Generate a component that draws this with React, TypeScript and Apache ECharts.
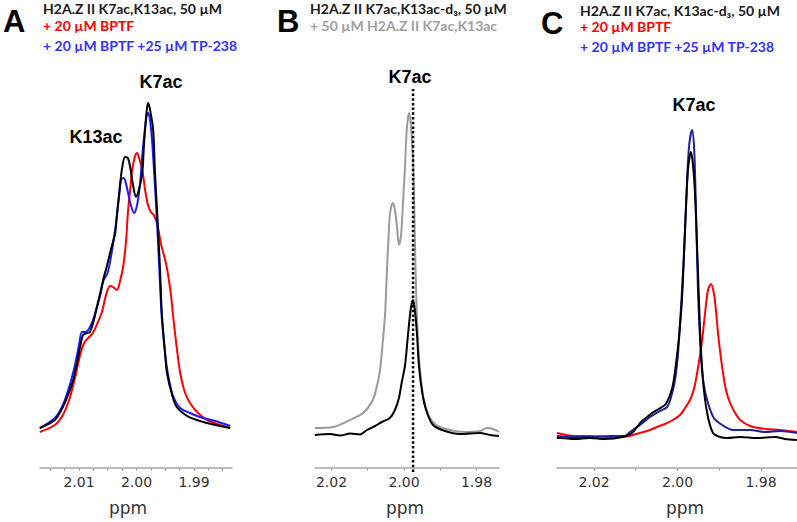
import React, { useEffect, useRef } from 'react';
import * as echarts from 'echarts';

// ---------- Panel A (ppm, intensity) ----------
const aRed = [
  [2.0168, -1], [2.0142, 0.75], [2.0128, 3.25], [2.0116, 7.5], [2.0107, 12.5], [2.0098, 18.25], [2.0091, 21.25],
  [2.0084, 22.5], [2.0076, 23.75], [2.0067, 26.5], [2.006, 29], [2.0053, 33.25], [2.0046, 35.5], [2.0041, 35.25],
  [2.0034, 34.5], [2.0029, 36.5], [2.0023, 40.5], [2.0018, 47], [2.0015, 53.75], [2.0011, 59.5], [2.0008, 64],
  [2.0003, 67.75], [1.9999, 68.75], [1.9996, 67.75], [1.999, 64.5], [1.9985, 59.5], [1.998, 55.75], [1.9975, 54],
  [1.997, 53.25], [1.9964, 51], [1.9957, 45.75], [1.995, 42], [1.9945, 38.25], [1.994, 33.25], [1.9937, 29],
  [1.9933, 23.75], [1.9928, 17.75], [1.9924, 13.75], [1.9916, 9], [1.9907, 6.25], [1.9893, 3.75], [1.9877, 2],
  [1.9855, 0.75], [1.9837, 0],
];
const aBlue = [
  [2.0168, 0], [2.0142, 2.5], [2.0128, 5.75], [2.0116, 10.75], [2.0107, 15.75], [2.01, 20.75], [2.0095, 24],
  [2.009, 24], [2.0084, 24.5], [2.0077, 26.5], [2.007, 29.5], [2.0063, 33.25], [2.0057, 37], [2.0051, 38.5],
  [2.0046, 41.5], [2.0041, 45.75], [2.0036, 50.75], [2.003, 58.25], [2.0027, 62], [2.0023, 62.5], [2.002, 62],
  [2.0015, 59], [2.001, 55.75], [2.0004, 53.75], [1.9999, 55.75], [1.9994, 60.75], [1.9989, 69.5], [1.9983, 77.5],
  [1.998, 78.75], [1.9977, 77.5], [1.9973, 72], [1.9968, 60.75], [1.9964, 50.75], [1.9959, 35.75], [1.9956, 27.5],
  [1.995, 18.25], [1.9945, 13.25], [1.9937, 8.25], [1.9924, 5], [1.9907, 3.75], [1.989, 2.75], [1.9863, 1.75],
  [1.9837, 0.5],
];
const aBlack = [
  [2.0168, 0], [2.0142, 2], [2.0128, 5.25], [2.0119, 8.25], [2.011, 12], [2.0103, 16.5], [2.0098, 20.25],
  [2.0093, 23.25], [2.0086, 23.75], [2.0081, 24], [2.0074, 27], [2.0069, 30.25], [2.0063, 33.75], [2.0058, 37],
  [2.0051, 40.75], [2.0046, 43.75], [2.0041, 46.5], [2.0037, 48.75], [2.0034, 53.25], [2.0029, 60.25], [2.0025, 65],
  [2.002, 67.75], [2.0015, 67.5], [2.0011, 65.25], [2.0006, 60.75], [2.0001, 57.75], [1.9996, 59.5], [1.999, 63.75],
  [1.9987, 70.75], [1.9983, 78.25], [1.998, 81.25], [1.9977, 80], [1.9971, 74.5], [1.9968, 64.5], [1.9964, 53.75],
  [1.9959, 39.5], [1.9956, 28.75], [1.995, 18.25], [1.9947, 13.75], [1.9938, 8.25], [1.993, 5.25], [1.9912, 3],
  [1.9895, 2], [1.9863, 0.75], [1.9837, 0],
];
const aTicks = [2.015, 2.0125, 2.01, 2.0075, 2.005, 2.0025, 2.0, 1.9975, 1.995, 1.9925, 1.99, 1.9875, 1.985];
const aLabels = [2.01, 2.0, 1.99];

// ---------- Panel B ----------
const bGray = [
  [2.0246, 0], [2.0196, 0.25], [2.0149, 2], [2.0113, 3.75], [2.0086, 7], [2.0074, 10.75], [2.0066, 14.5],
  [2.0058, 22], [2.0052, 28.75], [2.0047, 39.5], [2.0044, 45.25], [2.0039, 53.25], [2.0034, 55.75], [2.003, 56.25],
  [2.0025, 54.5], [2.0019, 50], [2.0014, 45.75], [2.0008, 48.25], [2.0003, 55.75], [1.9997, 65.75], [1.9992, 75],
  [1.9986, 78.75], [1.9981, 75.75], [1.9975, 67], [1.9972, 57], [1.997, 47], [1.9967, 35.75], [1.9964, 27],
  [1.9959, 18.25], [1.9953, 12], [1.9945, 7], [1.9928, 2.5], [1.9901, 0.25], [1.9826, -1], [1.979, -0.75],
  [1.9771, 0], [1.9754, -0.25], [1.9738, -1],
];
const bBlack = [
  [2.0246, -1.75], [2.0204, -1.5], [2.0177, -1.9], [2.0149, -1.4], [2.0121, -1.6], [2.0102, -0.5], [2.008, 0.5],
  [2.0061, 1.5], [2.0039, 2.5], [2.0025, 4.5], [2.0014, 7.5], [2.0006, 11.5], [1.9997, 15.75], [1.9989, 23.25],
  [1.9981, 30], [1.9975, 32], [1.997, 29.5], [1.9964, 23.25], [1.9959, 15.75], [1.995, 9], [1.9939, 4.5],
  [1.992, 0.75], [1.9887, -0.75], [1.9846, -1.5], [1.979, -1.25], [1.9763, -1.75], [1.9738, -2],
];
const bDotted = [[1.9975, -11], [1.9975, 84.75]];
const bTicks = [2.02, 2.01, 2.0, 1.99, 1.98];
const bLabels = [2.02, 2.0, 1.98];

// ---------- Panel C ----------
const cRed = [
  [2.0289, -1.25], [2.0246, -2], [2.021, -2], [2.0162, -2.25], [2.0131, -2.25], [2.009, -1.25], [2.0066, -0.5],
  [2.0049, 0.25], [2.003, 1], [2.0011, 2], [1.9994, 3.25], [1.9982, 5], [1.997, 7], [1.996, 10], [1.9953, 13.75],
  [1.9946, 18.25], [1.9941, 22], [1.9934, 28.75], [1.9927, 34.5], [1.992, 36], [1.9913, 33.75], [1.9908, 29.5],
  [1.9903, 23.75], [1.9896, 17.5], [1.9891, 13.75], [1.9884, 9.5], [1.9874, 6.25], [1.9862, 3.75], [1.985, 2],
  [1.9826, 0.5], [1.979, -0.25], [1.9755, -0.5], [1.9714, -1],
];
const cBlue = [
  [2.0289, -2], [2.0246, -2.25], [2.021, -2.25], [2.0162, -2], [2.0126, -2], [2.0114, -1], [2.009, 0.75],
  [2.0066, 2.75], [2.0042, 4.25], [2.0025, 5.25], [2.0016, 7.5], [2.0006, 12], [1.9999, 18.25], [1.9992, 29.5],
  [1.9984, 44.5], [1.9977, 62], [1.9972, 70.75], [1.9965, 74.5], [1.996, 69.5], [1.9956, 55.75], [1.9951, 34.5],
  [1.9944, 18.25], [1.9937, 10.75], [1.9927, 6.25], [1.9913, 2.5], [1.9893, 0.75], [1.9867, -0.5], [1.9826, -0.5],
  [1.979, -1], [1.9755, -0.75], [1.9714, -1.25],
];
const cBlack = [
  [2.0289, -2.5], [2.0281, -2.5], [2.0246, -2.75], [2.021, -2.5], [2.0174, -2.75], [2.0131, -2.25], [2.0109, -1.25],
  [2.0097, 0.25], [2.0085, 1.75], [2.0073, 2.75], [2.0061, 3.75], [2.0049, 4.5], [2.0037, 5.25], [2.0028, 6],
  [2.0018, 8.25], [2.0011, 10.75], [2.0004, 15.75], [1.9996, 23.25], [1.9989, 32.75], [1.9982, 49.5], [1.9975, 64.5],
  [1.9968, 69], [1.996, 62], [1.9953, 45.25], [1.9946, 24.5], [1.9939, 12], [1.9929, 3.75], [1.9915, -1.25],
  [1.9898, -2.25], [1.9881, -2.5], [1.985, -2.25], [1.981, -2.5], [1.9766, -2.25], [1.9743, -2.75], [1.9714, -3],
];
const cTicks = [2.02, 2.01, 2.0, 1.99, 1.98];
const cLabels = [2.02, 2.0, 1.98];

const TITLE_FONT = 'Lato';
const AXIS_COLOR = '#a6a6a6';

function makeX(gridIndex: number, min: number, max: number, ticks: number[], labels: number[]) {
  return {
    type: 'value',
    gridIndex,
    inverse: true,
    min,
    max,
    axisLine: { show: true, onZero: false, lineStyle: { color: AXIS_COLOR, width: 1.5 } },
    axisTick: { show: true, customValues: ticks, length: 3, lineStyle: { color: AXIS_COLOR, width: 1 } },
    axisLabel: {
      customValues: labels,
      formatter: (v: number) => v.toFixed(2),
      fontFamily: 'DejaVu Sans',
      fontSize: 14,
      color: '#333',
      margin: 7,
    },
    splitLine: { show: false },
  };
}

function makeY(gridIndex: number) {
  return { type: 'value', gridIndex, min: -10, max: 90, show: false };
}

function spectrum(data: number[][], color: string, idx: number) {
  return {
    type: 'line',
    data,
    xAxisIndex: idx,
    yAxisIndex: idx,
    showSymbol: false,
    smooth: 0.3,
    lineStyle: { color, width: 2 },
    silent: true,
  };
}

function txt(text: string, x: number, y: number, size: number, fill: string, family: string, weight = 'bold', align = 'left') {
  return {
    type: 'text',
    x,
    y,
    silent: true,
    style: { text, fill, fontSize: size, fontFamily: family, fontWeight: weight, align, verticalAlign: 'middle' },
  };
}

export default function App() {
  const ref = useRef<HTMLDivElement>(null);
  useEffect(() => {
    const chart = echarts.init(ref.current!, null, { renderer: 'svg' });
    const option: any = {
      animation: false,
      backgroundColor: '#ffffff',
      grid: [
        { left: 40, right: 797 - 232, top: 68, bottom: 54 },
        { left: 315, right: 797 - 499, top: 68, bottom: 54 },
        { left: 557, right: 0, top: 68, bottom: 54 },
      ],
      xAxis: [
        makeX(0, 1.98339, 2.01678, aTicks, aLabels),
        makeX(1, 1.97379, 2.02455, bTicks, bLabels),
        makeX(2, 1.97138, 2.02886, cTicks, cLabels),
      ],
      yAxis: [makeY(0), makeY(1), makeY(2)],
      series: [
        spectrum(aRed, '#ff0000', 0),
        spectrum(aBlue, '#1a1aff', 0),
        spectrum(aBlack, '#000000', 0),
        spectrum(bGray, '#9a9a9a', 1),
        spectrum(bBlack, '#000000', 1),
        {
          type: 'line',
          data: bDotted,
          xAxisIndex: 1,
          yAxisIndex: 1,
          showSymbol: false,
          clip: false,
          silent: true,
          lineStyle: { color: '#000', width: 2.5, type: [2.5, 2.2], cap: 'butt' },
        },
        spectrum(cRed, '#ff0000', 2),
        spectrum(cBlue, '#1f1f9e', 2),
        spectrum(cBlack, '#000000', 2),
      ],
      graphic: [
        // panel letters
        txt('A', 3, 21.5, 31, '#000', 'Liberation Sans'),
        txt('B', 277, 21.5, 31, '#000', 'Liberation Sans'),
        txt('C', 541, 23.5, 31, '#000', 'Liberation Sans'),
        // panel A titles
        txt('H2A.Z II K7ac,K13ac, 50 µM', 43, 8.5, 14, '#1a1a1a', TITLE_FONT),
        txt('+ 20 µM BPTF', 43, 25.7, 14, '#ff0000', TITLE_FONT),
        txt('+ 20 µM BPTF +25 µM TP-238', 43, 45.7, 14, '#3333ff', TITLE_FONT),
        // panel B titles
        txt('H2A.Z II K7ac,K13ac-d₃, 50 µM', 310, 8.3, 14, '#1a1a1a', TITLE_FONT),
        txt('+ 50 µM H2A.Z II K7ac,K13ac', 310, 25.3, 14, '#a0a0a0', TITLE_FONT),
        // panel C titles
        txt('H2A.Z II K7ac, K13ac-d₃, 50 µM', 580, 10, 14, '#1a1a1a', TITLE_FONT),
        txt('+ 20 µM BPTF', 580, 26.7, 14, '#ff0000', TITLE_FONT),
        txt('+ 20 µM BPTF +25 µM TP-238', 580, 46.7, 14, '#3333ff', TITLE_FONT),
        // peak labels
        txt('K7ac', 161, 81.5, 18, '#000', 'Liberation Sans', 'bold', 'center'),
        txt('K13ac', 96, 137, 18, '#000', 'Liberation Sans', 'bold', 'center'),
        txt('K7ac', 410, 76.5, 18, '#000', 'Liberation Sans', 'bold', 'center'),
        txt('K7ac', 694, 105, 18, '#000', 'Liberation Sans', 'bold', 'center'),
        // axis names
        txt('ppm', 128, 508, 17, '#333', 'DejaVu Sans', 'normal', 'center'),
        txt('ppm', 405, 508, 17, '#333', 'DejaVu Sans', 'normal', 'center'),
        txt('ppm', 685, 508, 17, '#333', 'DejaVu Sans', 'normal', 'center'),
      ],
    };
    chart.setOption(option);
    return () => chart.dispose();
  }, []);
  return (
    <div
      ref={ref}
      style={{ position: 'fixed', left: 0, top: 0, width: 797, height: 522, background: '#fff' }}
    />
  );
}
